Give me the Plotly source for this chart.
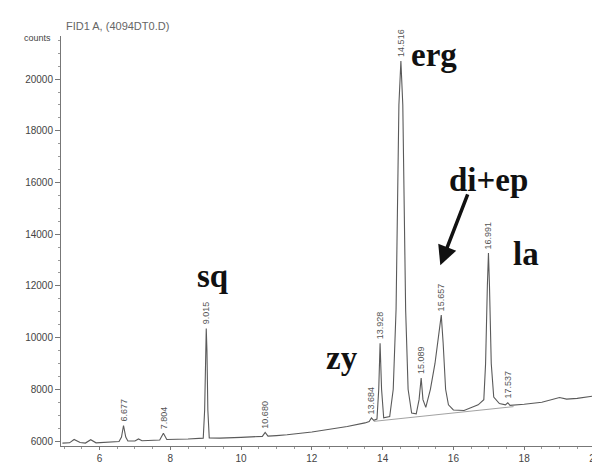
import plotly.graph_objects as go

# Chromatogram trace (retention time, counts)
time_min = [4.95, 5.15, 5.28, 5.45, 5.6, 5.75, 5.9, 6.2, 6.55, 6.62, 6.677, 6.74, 6.8, 7.0, 7.1, 7.2,
            7.7, 7.804, 7.9, 8.5, 8.93, 8.97, 8.995, 9.015, 9.035, 9.06, 9.1, 9.4, 10.0, 10.6, 10.68,
            10.76, 11.0, 11.3, 12.0, 12.5, 13.0, 13.5, 13.62, 13.684, 13.75, 13.84, 13.89, 13.928,
            13.97, 14.03, 14.2, 14.3, 14.38, 14.46, 14.516, 14.57, 14.65, 14.72, 14.82, 14.95,
            15.03, 15.089, 15.14, 15.22, 15.35, 15.48, 15.58, 15.657, 15.71, 15.78, 15.86, 16.0,
            16.3, 16.5, 16.7, 16.86, 16.91, 16.96, 16.991, 17.02, 17.07, 17.14, 17.3, 17.47,
            17.537, 17.6, 18.0, 18.5, 18.8, 19.0, 19.2, 19.5, 20.0, 20.2]
counts = [5920, 5930, 6060, 5940, 5920, 6050, 5930, 5950, 5980, 6150, 6600, 6150, 6000, 6000, 6080, 6010,
          6040, 6300, 6060, 6080, 6110, 7200, 9500, 10350, 9500, 7200, 6120, 6110, 6140, 6180, 6330,
          6190, 6210, 6240, 6350, 6450, 6560, 6700, 6750, 6890, 6800, 6850, 8000, 9780,
          8000, 6900, 6950, 8000, 11100, 19000, 20700, 19000, 11100, 8000, 7080, 7050,
          7600, 8440, 7600, 7300, 8000, 9000, 10200, 10870, 9800, 8000, 7400, 7200,
          7180, 7300, 7400, 7600, 9000, 12000, 13270, 12000, 9000, 7700, 7450, 7400,
          7480, 7380, 7420, 7500, 7600, 7680, 7620, 7650, 7750, 7800]

# Integration baseline segment
base_time = [13.75, 17.7]
base_counts = [6760, 7330]

# Labelled peaks
peak_times = [6.677, 7.804, 9.015, 10.680, 13.684, 13.928, 14.516, 15.089, 15.657, 16.991, 17.537]
peak_tops = [6600, 6300, 10350, 6330, 6890, 9780, 20700, 8440, 10870, 13270, 7480]
peak_labels = ["6.677", "7.804", "9.015", "10.680", "13.684", "13.928", "14.516",
               "15.089", "15.657", "16.991", "17.537"]

# Compound names
comp_names = ["sq", "zy", "erg", "di+ep", "la"]
comp_x = [9.2, 12.85, 15.45, 17.0, 18.05]
comp_y = [12400, 9200, 20950, 16100, 13250]

x_ticks = [6, 8, 10, 12, 14, 16, 18, 20]
y_ticks = [6000, 8000, 10000, 12000, 14000, 16000, 18000, 20000]
y_tick_text = ["6000", "8000", "10000", "12000", "14000", "16000", "18000", "20000"]

fig = go.Figure()
fig.add_trace(go.Scatter(x=base_time, y=base_counts, mode="lines",
                         line=dict(color="#8a8a8a", width=0.8), hoverinfo="skip"))
fig.add_trace(go.Scatter(x=time_min, y=counts, mode="lines",
                         line=dict(color="#5a5a5a", width=1.1)))

for t, c, lab in zip(peak_times, peak_tops, peak_labels):
    fig.add_annotation(x=t, y=c, text=lab, textangle=-90, showarrow=False,
                       xanchor="center", yanchor="bottom", yshift=2,
                       font=dict(family="Liberation Sans, Arial", size=9, color="#555"))

for n, x, y in zip(comp_names, comp_x, comp_y):
    fig.add_annotation(x=x, y=y, text="<b>" + n + "</b>", showarrow=False,
                       font=dict(family="Liberation Serif, Times New Roman", size=33, color="#111"))

# arrow for di+ep
fig.add_annotation(x=15.63, y=12800, ax=16.42, ay=15600, xref="x", yref="y",
                   axref="x", ayref="y", text="", showarrow=True,
                   arrowhead=2, arrowsize=1.1, arrowwidth=3.5, arrowcolor="#111")

fig.add_annotation(x=0.005, y=1.005, xref="paper", yref="paper", text="FID1 A, (4094DT0.D)",
                   showarrow=False, xanchor="left", yanchor="bottom",
                   font=dict(family="Liberation Sans, Arial", size=11, color="#666"))
fig.add_annotation(x=-0.015, y=0.995, xref="paper", yref="paper", text="counts",
                   showarrow=False, xanchor="right", yanchor="middle",
                   font=dict(family="Liberation Sans, Arial", size=9, color="#444"))

fig.update_layout(
    width=600, height=463, showlegend=False,
    paper_bgcolor="white", plot_bgcolor="white",
    margin=dict(l=53, r=6, t=28, b=25),
    xaxis=dict(range=[4.91, 20.2], tickvals=x_ticks, showgrid=False, zeroline=False,
               showline=True, linecolor="#777", linewidth=1, ticks="outside", ticklen=3,
               tickcolor="#777", minor=dict(dtick=0.5, ticks="outside", ticklen=2, tickcolor="#999"),
               tickfont=dict(family="Liberation Sans, Arial", size=10, color="#444")),
    yaxis=dict(range=[5807, 21667], tickvals=y_ticks, ticktext=y_tick_text, showgrid=False,
               zeroline=False, showline=True, linecolor="#777", linewidth=1, ticks="outside",
               ticklen=5, tickcolor="#777",
               minor=dict(dtick=500, ticks="outside", ticklen=2, tickcolor="#999"),
               tickfont=dict(family="Liberation Sans, Arial", size=10, color="#444")),
)

fig.write_html("out.html")
